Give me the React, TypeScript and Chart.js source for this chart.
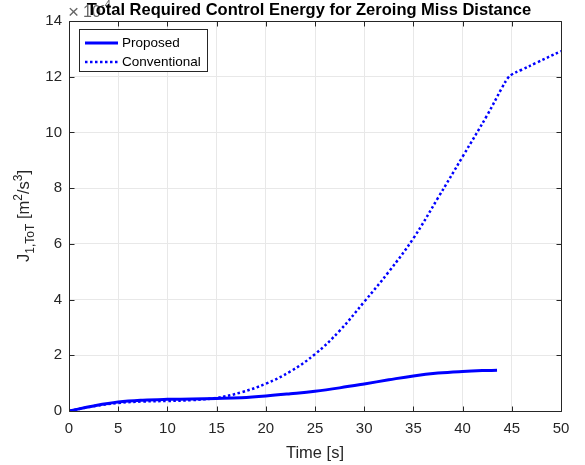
import React, { useEffect, useRef } from "react";
import { Chart, registerables } from "chart.js";
Chart.register(...registerables);

const timeProposed = [0, 2.5, 5, 7.5, 10, 12.5, 15, 17.5, 20, 22.5, 25, 27.5, 30, 32.5, 35, 37.5, 40, 42, 43.5];
const proposed = [0, 0.18, 0.32, 0.39, 0.42, 0.43, 0.45, 0.48, 0.54, 0.62, 0.71, 0.83, 0.97, 1.12, 1.26, 1.36, 1.42, 1.45, 1.46];
const timeConventional = [0, 2.5, 5, 7.5, 10, 12.5, 15, 17.5, 20, 22.5, 25, 27.5, 30, 32.5, 35, 37.5, 40, 42.5, 44, 44.6, 45, 46, 47.5, 50];
const conventional = [0, 0.17, 0.29, 0.34, 0.36, 0.39, 0.47, 0.67, 0.98, 1.42, 2.04, 2.88, 3.92, 5.0, 6.2, 7.65, 9.13, 10.62, 11.6, 11.95, 12.08, 12.25, 12.5, 12.92];
const xTicks = [0, 5, 10, 15, 20, 25, 30, 35, 40, 45, 50];
const yTicks = [0, 2, 4, 6, 8, 10, 12, 14];
const seriesNames = ["Proposed", "Conventional"];
const titleText = "Total Required Control Energy for Zeroing Miss Distance";
const xLabel = "Time [s]";

const FONT = "'Liberation Sans', Arial, Helvetica, sans-serif";
const AX = "#262626";

const decorPlugin = {
  id: "decor",
  afterDatasetsDraw(chart: any) {
    const { ctx, chartArea: a, scales } = chart;
    const xs = scales.x, ys = scales.y;
    ctx.save();
    // box
    ctx.strokeStyle = AX;
    ctx.lineWidth = 1;
    const L = Math.round(a.left) + 0.5, R = Math.round(a.right) + 0.5;
    const T = Math.round(a.top) + 0.5, B = Math.round(a.bottom) + 0.5;
    ctx.beginPath();
    ctx.rect(L, T, R - L, B - T);
    ctx.stroke();
    // ticks inward
    const tl = 5;
    ctx.beginPath();
    xTicks.forEach((v) => {
      const px = Math.round(xs.getPixelForValue(v)) + 0.5;
      ctx.moveTo(px, B); ctx.lineTo(px, B - tl);
      ctx.moveTo(px, T); ctx.lineTo(px, T + tl);
    });
    yTicks.forEach((v) => {
      const py = Math.round(ys.getPixelForValue(v)) + 0.5;
      ctx.moveTo(L, py); ctx.lineTo(L + tl, py);
      ctx.moveTo(R, py); ctx.lineTo(R - tl, py);
    });
    ctx.stroke();

    // legend
    const lx = 79.5, ly = 29.5, lw = 128, lh = 42;
    ctx.fillStyle = "#ffffff";
    ctx.fillRect(lx, ly, lw, lh);
    ctx.strokeStyle = AX;
    ctx.strokeRect(lx, ly, lw, lh);
    ctx.font = `13.5px ${FONT}`;
    ctx.textBaseline = "middle";
    ctx.textAlign = "left";
    const rows = [43, 62];
    seriesNames.forEach((name, i) => {
      ctx.strokeStyle = "#0000ff";
      ctx.lineWidth = i === 0 ? 3 : 2.5;
      ctx.setLineDash(i === 0 ? [] : [2.5, 2.5]);
      ctx.beginPath();
      ctx.moveTo(85, rows[i]);
      ctx.lineTo(118, rows[i]);
      ctx.stroke();
      ctx.setLineDash([]);
      ctx.fillStyle = "#000";
      ctx.fillText(name, 122, rows[i] + 0.5);
    });

    // exponent label
    ctx.fillStyle = "#666";
    ctx.font = `19px ${FONT}`;
    ctx.textBaseline = "alphabetic";
    ctx.fillText("\u00d7", 68, 18);
    ctx.font = `16px ${FONT}`;
    ctx.fillText("10", 83, 17);
    ctx.font = `11px ${FONT}`;
    ctx.fillText("-4", 101, 8);

    // title
    ctx.fillStyle = "#000";
    ctx.font = `bold 16.5px ${FONT}`;
    ctx.textAlign = "center";
    ctx.textBaseline = "alphabetic";
    ctx.fillText(titleText, 309, 14.5);

    // x label
    ctx.fillStyle = AX;
    ctx.font = `16.5px ${FONT}`;
    ctx.fillText(xLabel, (a.left + a.right) / 2, 458);

    // y label
    ctx.translate(29, (a.top + a.bottom) / 2);
    ctx.rotate(-Math.PI / 2);
    const parts: [string, number, number][] = [
      ["J", 16.5, 0],
      ["1,ToT", 12, 5],
      [" [m", 16.5, 0],
      ["2", 12, -7],
      ["/s", 16.5, 0],
      ["3", 12, -7],
      ["]", 16.5, 0],
    ];
    let total = 0;
    parts.forEach(([t, s]) => {
      ctx.font = `${s}px ${FONT}`;
      total += ctx.measureText(t).width;
    });
    let cx = -total / 2;
    ctx.textAlign = "left";
    parts.forEach(([t, s, dy]) => {
      ctx.font = `${s}px ${FONT}`;
      ctx.fillText(t, cx, dy);
      cx += ctx.measureText(t).width;
    });
    ctx.restore();
  },
};

export default function App() {
  const ref = useRef<HTMLCanvasElement>(null);
  useEffect(() => {
    const chart = new Chart(ref.current!, {
      type: "line",
      data: {
        datasets: [
          {
            label: seriesNames[0],
            data: timeProposed.map((t, i) => ({ x: t, y: proposed[i] })),
            borderColor: "#0000ff",
            borderWidth: 3,
            pointRadius: 0,
            tension: 0.4,
          },
          {
            label: seriesNames[1],
            data: timeConventional.map((t, i) => ({ x: t, y: conventional[i] })),
            borderColor: "#0000ff",
            borderWidth: 2.5,
            borderDash: [2.5, 2.5],
            pointRadius: 0,
            tension: 0.4,
          },
        ],
      },
      options: {
        animation: false,
        responsive: false,
        events: [],
        layout: { padding: { top: 21, right: 24, left: 0, bottom: 0 } },
        plugins: { legend: { display: false }, tooltip: { enabled: false }, title: { display: false } },
        scales: {
          x: {
            type: "linear",
            min: 0,
            max: 50,
            afterBuildTicks: (s: any) => { s.ticks = xTicks.map((v) => ({ value: v })); },
            afterFit: (s: any) => { s.height = 54; },
            grid: { color: "#e8e8e8", drawTicks: false },
            border: { display: false },
            ticks: { color: AX, font: { family: FONT, size: 15 }, padding: 9, maxRotation: 0 },
          },
          y: {
            type: "linear",
            min: 0,
            max: 14,
            afterBuildTicks: (s: any) => { s.ticks = yTicks.map((v) => ({ value: v })); },
            afterFit: (s: any) => { s.width = 69; },
            grid: { color: "#e8e8e8", drawTicks: false },
            border: { display: false },
            ticks: { color: AX, font: { family: FONT, size: 15 }, padding: 7 },
          },
        },
      },
      plugins: [decorPlugin],
    } as any);
    return () => chart.destroy();
  }, []);
  return (
    <div style={{ position: "fixed", left: 0, top: 0, width: 585, height: 465, background: "#fff" }}>
      <canvas ref={ref} width={585} height={465} style={{ width: 585, height: 465 }} />
    </div>
  );
}
